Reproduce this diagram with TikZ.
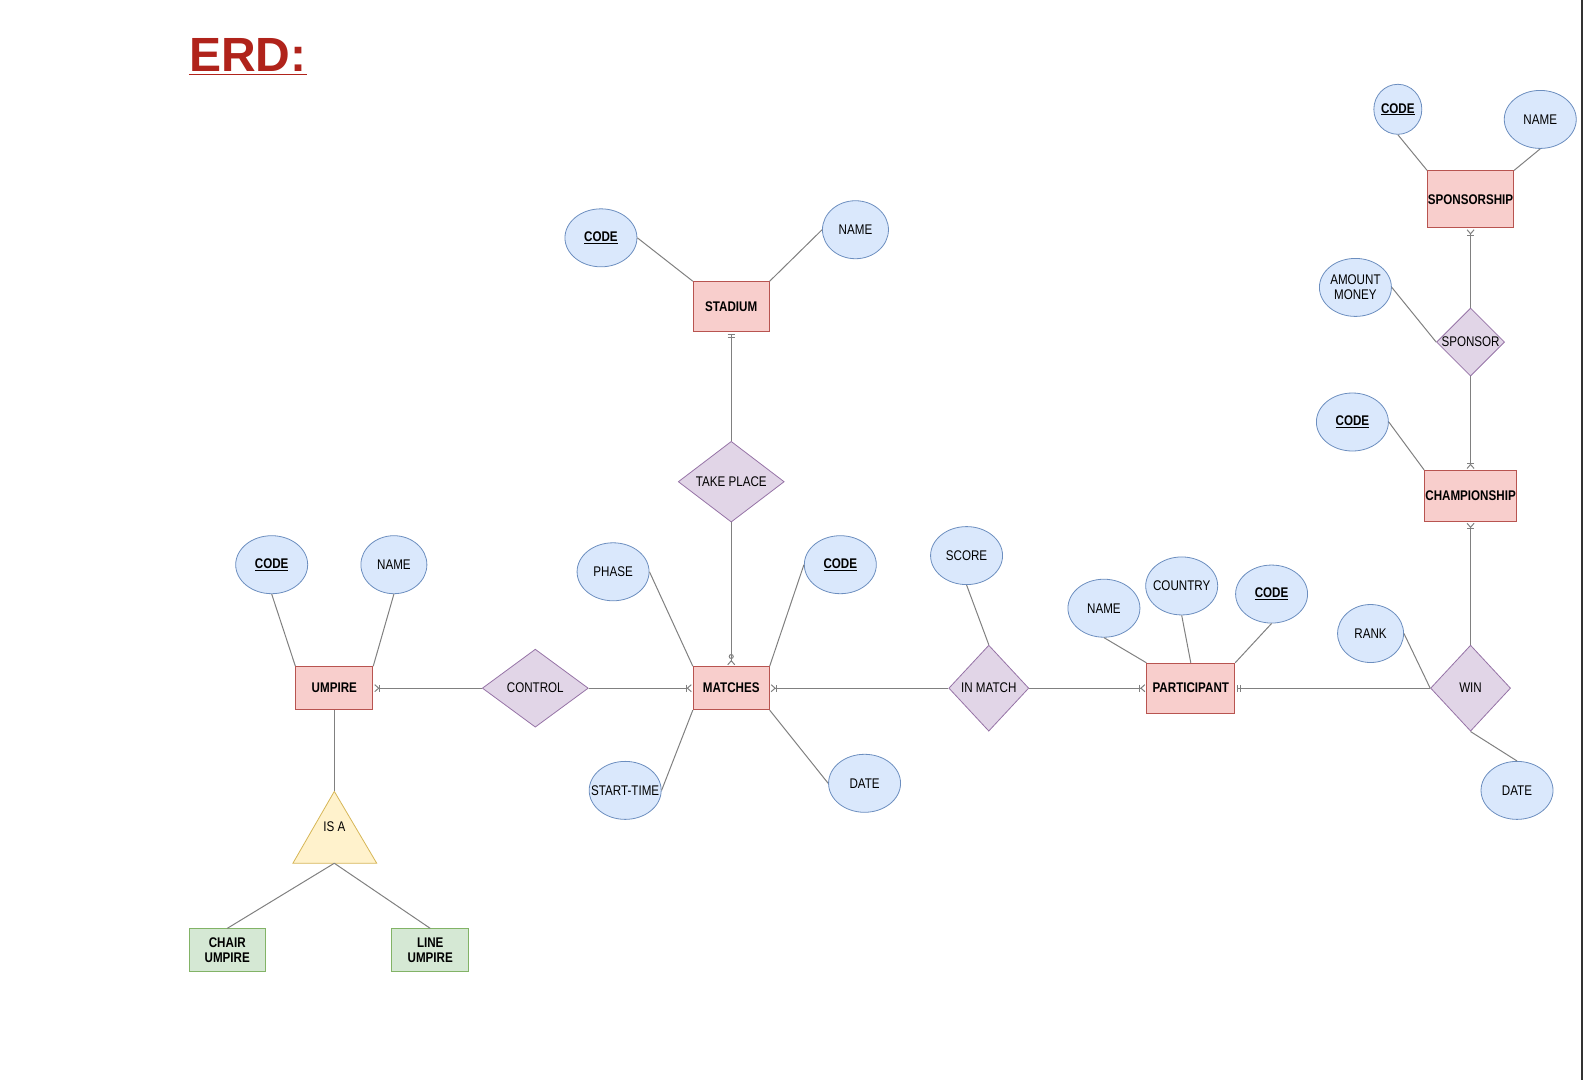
\documentclass[tikz,border=0pt]{standalone}
\usepackage{fontspec}
\setmainfont{Liberation Sans}
\newfontfamily\cond[FakeStretch=0.83]{Liberation Sans}
\usetikzlibrary{shapes.geometric,arrows.meta}
\definecolor{entF}{HTML}{F8CECC}\definecolor{entD}{HTML}{B85450}
\definecolor{relF}{HTML}{E1D5E7}\definecolor{relD}{HTML}{9673A6}
\definecolor{attF}{HTML}{DAE8FC}\definecolor{attD}{HTML}{6C8EBF}
\definecolor{subF}{HTML}{D5E8D4}\definecolor{subD}{HTML}{82B366}
\definecolor{isaF}{HTML}{FFF2CC}\definecolor{isaD}{HTML}{D6B656}
\definecolor{lnC}{HTML}{808080}
\definecolor{ttl}{HTML}{B0231B}
\begin{document}
\begin{tikzpicture}[x=1.01pt,y=-1.012pt,
  lbl/.style={font=\cond\fontsize{14}{15.5}\selectfont, align=center, inner sep=0pt},
  ent/.style={lbl, rectangle, draw=entD, fill=entF, line width=0.8pt, font=\cond\fontsize{14}{15.5}\selectfont\bfseries},
  sub/.style={lbl, rectangle, draw=subD, fill=subF, line width=0.8pt, font=\cond\fontsize{14}{15.5}\selectfont\bfseries},
  rel/.style={lbl, diamond, aspect=1, draw=relD, fill=relF, line width=0.8pt},
  att/.style={lbl, ellipse, draw=attD, fill=attF, line width=0.8pt, inner xsep=-9pt, minimum width=72pt, minimum height=58pt},
  key/.style={att, font=\cond\fontsize{14}{15.5}\selectfont\bfseries},
  conn/.style={draw=lnC, line width=1pt},
  oneMany/.style={conn, -{Bar[width=7pt,length=0.8pt] Straight Barb[reversed,length=4pt,width=7pt,sep=1pt]}},
  zeroMany/.style={conn, -{Circle[open,length=5pt,width=5pt,sep=1pt] Straight Barb[reversed,length=4pt,width=7pt,sep=1pt]}},
  mandOne/.style={conn, -{Bar[width=7pt,length=0.8pt,sep=2pt] Bar[width=7pt,length=0.8pt,sep=2pt]}}
]
\useasboundingbox (0pt,0pt) rectangle (1584pt,-1080pt);
\draw[line width=1.5pt, black!80] (1582pt,0pt) -- (1582pt,-1080pt);

% title
\node[anchor=base west, inner sep=0pt, text=ttl, font=\fontsize{48}{48}\selectfont\bfseries] (title) at (187,71) {ERD:};
\draw[ttl, line width=1.5pt] ([yshift=-2.5pt]title.base west) -- ([yshift=-2.5pt]title.base east);

% entities
\node[ent, minimum width=76pt, minimum height=50pt] (stadium) at (724,303) {STADIUM};
\node[ent, minimum width=76pt, minimum height=43pt] (matches) at (724,680) {MATCHES};
\node[ent, minimum width=77pt, minimum height=43pt] (umpire) at (331,680) {UMPIRE};
\node[ent, minimum width=88pt, minimum height=50pt] (participant) at (1179,680) {PARTICIPANT};
\node[ent, minimum width=86pt, minimum height=57pt] (sponsorship) at (1456,197) {SPONSORSHIP};
\node[ent, minimum width=92pt, minimum height=51pt] (championship) at (1456,490) {CHAMPIONSHIP};
\node[sub, minimum width=76pt, minimum height=43pt] (chair) at (225,939) {CHAIR\\UMPIRE};
\node[sub, minimum width=77pt, minimum height=43pt] (lineump) at (426,939) {LINE\\UMPIRE};

% relationships
\node[rel, minimum width=106pt, minimum height=78pt] (takeplace) at (724,476) {TAKE PLACE};
\node[rel, minimum width=106pt, minimum height=78pt] (control) at (530,680) {CONTROL};
\node[rel, minimum width=80pt, minimum height=86pt] (inmatch) at (979,680) {IN MATCH};
\node[rel, minimum width=80pt, minimum height=86pt] (win) at (1456,680) {WIN};
\node[rel, minimum width=68pt, minimum height=64pt] (sponsor) at (1456,338) {SPONSOR};

% IS A triangle
\coordinate (isaTop) at (331,782);
\coordinate (isaL) at (290,853);
\coordinate (isaR) at (373,853);
\coordinate (isaBot) at (331,853);
\filldraw[fill=isaF, draw=isaD, line width=0.8pt] (isaTop) -- (isaL) -- (isaR) -- cycle;
\node[lbl] (isa) at (331,817) {IS A};

% attributes
\node[key] (scode) at (595,235) {\underline{CODE}};
\node[att, minimum width=66pt] (sname) at (847,227) {NAME};
\node[key] (ucode) at (269,558) {\underline{CODE}};
\node[att, minimum width=66pt] (uname) at (390,558) {NAME};
\node[att] (phase) at (607,565) {PHASE};
\node[key] (mcode) at (832,558) {\underline{CODE}};
\node[att] (stime) at (619,781) {START-TIME};
\node[att] (mdate) at (856,774) {DATE};
\node[att] (score) at (957,549) {SCORE};
\node[att] (pname) at (1093,601) {NAME};
\node[att] (country) at (1170,579) {COUNTRY};
\node[key] (pcode) at (1259,587) {\underline{CODE}};
\node[att, minimum width=66pt] (rank) at (1357,626) {RANK};
\node[att] (wdate) at (1502,781) {DATE};
\node[key] (ccode) at (1339,417) {\underline{CODE}};
\node[att] (amount) at (1342,284) {AMOUNT\\MONEY};
\node[key, minimum width=48pt, minimum height=50pt] (spcode) at (1384,108) {\underline{CODE}};
\node[att] (spname) at (1525,118) {NAME};

% attribute links
\draw[conn] (scode.east) -- (stadium.north west);
\draw[conn] (sname.west) -- (stadium.north east);
\draw[conn] (ucode.south) -- (umpire.north west);
\draw[conn] (uname.south) -- (umpire.north east);
\draw[conn] (phase.east) -- (matches.north west);
\draw[conn] (mcode.west) -- (matches.north east);
\draw[conn] (stime.east) -- (matches.south west);
\draw[conn] (mdate.west) -- (matches.south east);
\draw[conn] (score.south) -- (inmatch.north);
\draw[conn] (pname.south) -- (participant.north west);
\draw[conn] (country.south) -- (participant.north);
\draw[conn] (pcode.south) -- (participant.north east);
\draw[conn] (rank.east) -- (win.west);
\draw[conn] (wdate.north) -- (win.south);
\draw[conn] (ccode.east) -- (championship.north west);
\draw[conn] (amount.east) -- (sponsor.west);
\draw[conn] (spcode.south) -- (sponsorship.north west);
\draw[conn] (spname.south) -- (sponsorship.north east);

% relationship links
\draw[mandOne] (takeplace.north) -- (stadium.south);
\draw[zeroMany] (takeplace.south) -- (matches.north);
\draw[oneMany] (control.west) -- (umpire.east);
\draw[oneMany] (control.east) -- (matches.west);
\draw[oneMany] (inmatch.west) -- (matches.east);
\draw[oneMany] (inmatch.east) -- (participant.west);
\draw[mandOne] (win.west) -- (participant.east);
\draw[oneMany] (win.north) -- (championship.south);
\draw[oneMany] (sponsor.south) -- (championship.north);
\draw[oneMany] (sponsor.north) -- (sponsorship.south);

% IS A links
\draw[conn] (umpire.south) -- (isaTop);
\draw[conn] (isaBot) -- (chair.north);
\draw[conn] (isaBot) -- (lineump.north);
\end{tikzpicture}
\end{document}
